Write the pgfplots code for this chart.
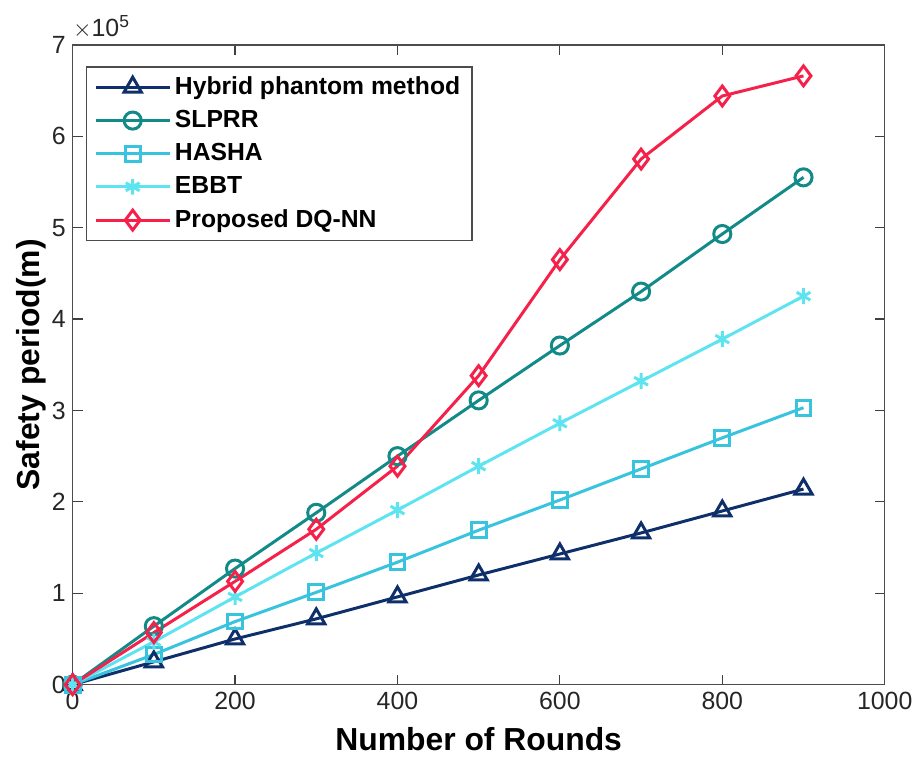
\documentclass[border=0pt]{standalone}
\usepackage{fontspec}
\setmainfont{Liberation Sans}
\usepackage{pgfplots}
\pgfplotsset{compat=1.18}
\definecolor{cHyb}{HTML}{0F2F6A}
\definecolor{cSLP}{HTML}{128A88}
\definecolor{cHAS}{HTML}{38C3DE}
\definecolor{cEBB}{HTML}{5EE4F0}
\definecolor{cDQN}{HTML}{F5214A}
\begin{document}
\begin{tikzpicture}
\begin{axis}[
  name=ax,
  scale only axis,
  width=408pt, height=321.5pt,
  xmin=0, xmax=1000, ymin=0, ymax=7,
  xtick={0,200,...,1000}, ytick={0,1,...,7},
  tick align=inside, xtick pos=both, ytick pos=both,
  major tick length=5pt,
  tick style={black!75, line width=0.6pt},
  axis line style={black!70, line width=0.8pt},
  /pgf/number format/assume math mode=true,
  /pgf/number format/1000 sep={},
  ticklabel style={font=\fontsize{12.5}{14}\selectfont, text=black!85},
  scaled ticks=false,
  xlabel={\textbf{Number of Rounds}},
  ylabel={\textbf{Safety period(m)}},
  label style={font=\fontsize{16}{19}\selectfont},
  xlabel style={yshift=-2pt},
  ylabel style={yshift=-4pt},
  legend style={at={(rel axis cs:0.016,0.967)}, anchor=north west,
    font=\bfseries\fontsize{12.4}{14}\selectfont, draw=black!70, line width=0.8pt,
    row sep=2.5pt, inner xsep=4pt, inner ysep=3pt},
  legend cell align=left,
  legend image code/.code={\draw[mark repeat=2,mark phase=2] plot coordinates {(0cm,0cm) (0.65cm,0cm) (1.3cm,0cm)};},
  every axis plot/.append style={line width=1.5pt, mark size=4.3pt, mark options={solid, fill=none, line width=1.5pt}},
]
\addplot[color=cHyb, mark=triangle, mark size=5pt] coordinates {
(0,0) (100,0.25) (200,0.50) (300,0.72) (400,0.96) (500,1.20) (600,1.43) (700,1.66) (800,1.90) (900,2.14)};
\addlegendentry{Hybrid phantom method}
\addplot[color=cSLP, mark=o] coordinates {
(0,0) (100,0.64) (200,1.27) (300,1.88) (400,2.50) (500,3.11) (600,3.71) (700,4.30) (800,4.93) (900,5.55)};
\addlegendentry{SLPRR}
\addplot[color=cHAS, mark=square, mark size=3.7pt] coordinates {
(0,0) (100,0.33) (200,0.69) (300,1.01) (400,1.34) (500,1.69) (600,2.02) (700,2.36) (800,2.70) (900,3.03)};
\addlegendentry{HASHA}
\addplot[color=cEBB, mark=asterisk, mark size=4pt] coordinates {
(0,0) (100,0.47) (200,0.96) (300,1.44) (400,1.91) (500,2.39) (600,2.86) (700,3.32) (800,3.78) (900,4.25)};
\addlegendentry{EBBT}
\addplot[color=cDQN, mark=diamond, mark size=5pt] coordinates {
(0,0) (100,0.57) (200,1.13) (300,1.70) (400,2.39) (500,3.38) (600,4.65) (700,5.75) (800,6.44) (900,6.66)};
\addlegendentry{Proposed DQ-NN}
\end{axis}
\node[anchor=south west, inner sep=0pt, font=\fontsize{12.5}{14}\selectfont, text=black!85] at ([yshift=3pt]ax.north west) {$\times$10\textsuperscript{5}};
\path (-36.5pt,-41.5pt) rectangle (423pt,344pt);
\end{tikzpicture}
\end{document}
